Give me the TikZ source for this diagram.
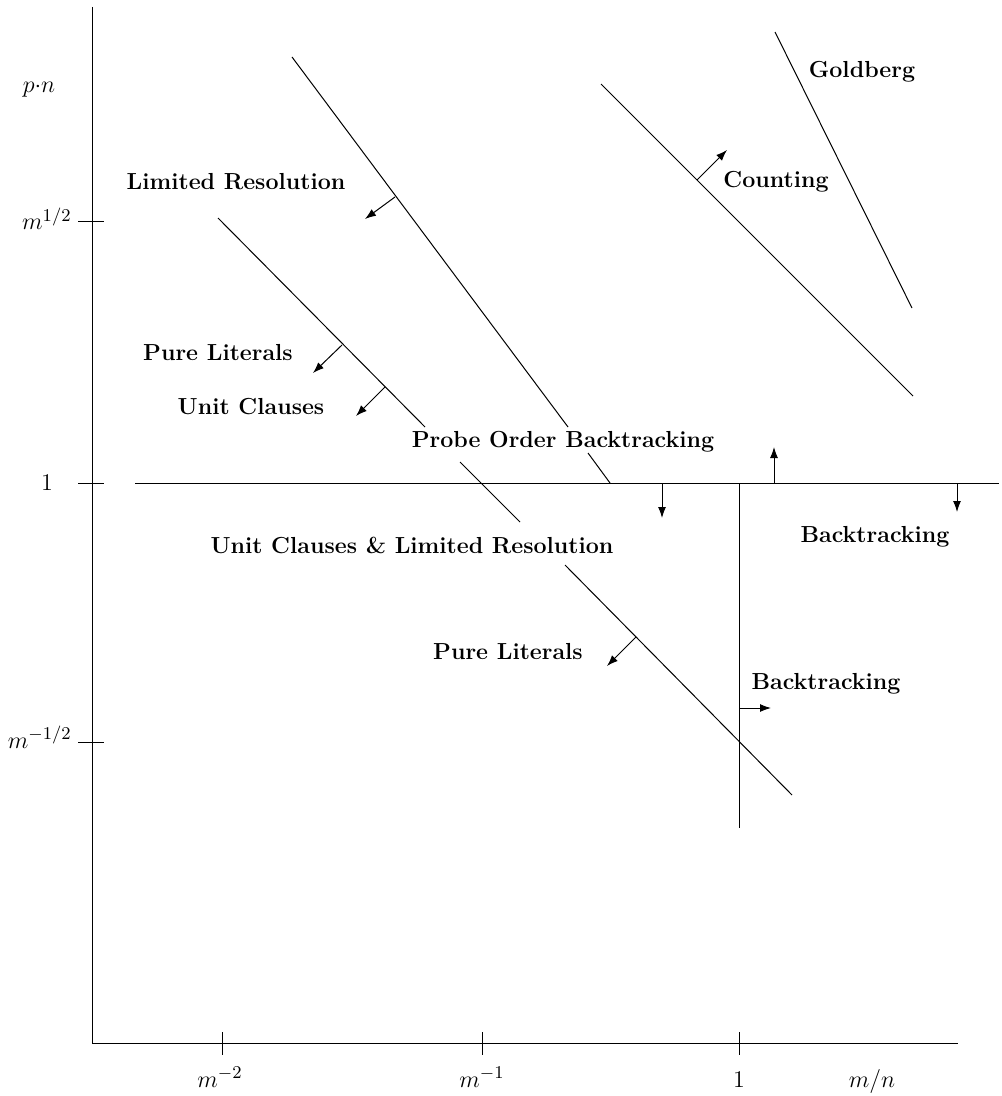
\documentclass[tikz,border=0pt]{standalone}
\usetikzlibrary{arrows.meta}
\begin{document}
\begin{tikzpicture}[x=0.5pt,y=-0.5pt, line width=0.5pt,
  lab/.style={font=\fontsize{11.6}{13.5}\selectfont\bfseries, inner sep=0pt},
  mlab/.style={font=\fontsize{12.6}{15}\selectfont, inner sep=0pt},
  arr/.style={-{Latex[length=5.5pt,width=4pt]}}]
\useasboundingbox (0,0) rectangle (1001,1096);
% axes
\coordinate (ytop) at (92,7);
\coordinate (O) at (92,1043);
\coordinate (xend) at (958,1043);
\draw (ytop) -- (O) -- (xend);
\foreach \y in {222,483,742} \draw (78,\y) -- (104,\y);
\foreach \x in {222,482,739} \draw (\x,1032) -- (\x,1055);
% axis labels
\node[mlab] (pn) at (39,90) {$p{\cdot}n$};
\node[mlab, anchor=base east] (ym1) at (72,230) {$m^{1/2}$};
\node[mlab] (y0) at (47,483) {$1$};
\node[mlab, anchor=base east] (ym2) at (72,748) {$m^{-1/2}$};
\node[mlab, anchor=base] (xm2) at (220,1087) {$m^{-2}$};
\node[mlab, anchor=base] (xm1) at (482,1087) {$m^{-1}$};
\node[mlab, anchor=base] (x0) at (739,1087) {$1$};
\node[mlab, anchor=base] (mn) at (872,1087) {$m/n$};
% horizontal and vertical region boundaries
\draw (135,483) -- (999,483);
\draw (610,483) -- (913,483);
\draw (739,483) -- (739,828);
% Limited Resolution / Probe order line
\draw (292,57) -- (568,427);
\draw (588,453) -- (610,483);
% Unit clauses / pure literals line
\draw (218,218) -- (425,427);
\draw (460,462) -- (520,522);
\draw (565,565) -- (792,795);
% Counting line
\draw (601,84) -- (913,396);
% Goldberg line
\draw (775,32) -- (912,308);
% arrows
\draw[arr] (395,197) -- (365,219);
\draw[arr] (342,345) -- (313,373);
\draw[arr] (385,387) -- (356,416);
\draw[arr] (697,180) -- (727,150);
\draw[arr] (774,483) -- (774,447);
\draw[arr] (662,483) -- (662,518);
\draw[arr] (957,483) -- (957,512);
\draw[arr] (636,637) -- (607,666);
\draw[arr] (739,708) -- (771,708);
% labels
\node[lab] (lr) at (236,182) {Limited Resolution};
\node[lab] (pl1) at (218,353) {Pure Literals};
\node[lab] (uc) at (251,407) {Unit Clauses};
\node[lab] (pob) at (563,442) {Probe Order Backtracking};
\node[lab] (uclr) at (412,545) {Unit Clauses \& Limited Resolution};
\node[lab] (gb) at (862,72) {Goldberg};
\node[lab] (ct) at (776,182) {Counting};
\node[lab] (bt1) at (875,537) {Backtracking};
\node[lab] (pl2) at (508,652) {Pure Literals};
\node[lab] (bt2) at (826,684) {Backtracking};
\end{tikzpicture}
\end{document}
